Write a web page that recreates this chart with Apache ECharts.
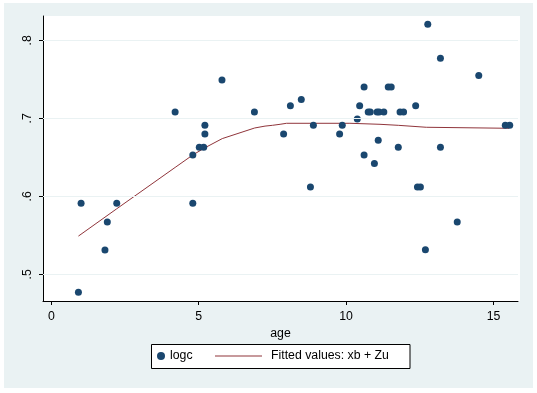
<!DOCTYPE html>
<html><head><meta charset="utf-8">
<script src="https://cdn.jsdelivr.net/npm/echarts@6/dist/echarts.min.js"></script>
<style>html,body{margin:0;padding:0;background:#fff}#c{width:537px;height:393px}</style>
</head><body><div id="c"></div>
<script>
// observed data: age and logc
const ages = [0.92,1.01,1.82,1.90,2.22,4.20,4.80,4.80,5.02,5.17,5.21,5.21,5.79,6.89,7.88,8.11,8.48,8.79,8.89,9.78,9.87,10.38,10.46,10.61,10.61,10.75,10.82,10.96,11.05,11.12,11.09,11.28,11.43,11.53,11.77,11.83,11.95,12.36,12.42,12.52,12.69,12.77,13.20,13.20,13.77,14.50,15.40,15.55];
const logc = [0.477,0.591,0.531,0.567,0.591,0.708,0.653,0.591,0.663,0.663,0.680,0.691,0.749,0.708,0.680,0.716,0.724,0.612,0.691,0.680,0.691,0.699,0.716,0.740,0.653,0.708,0.708,0.642,0.708,0.708,0.672,0.708,0.740,0.740,0.663,0.708,0.708,0.716,0.612,0.612,0.5315,0.8205,0.777,0.663,0.567,0.755,0.691,0.691];
// fitted values: xb + Zu
const fitAges = [0.92,2.22,4.20,4.80,5.20,5.80,6.90,7.25,7.50,7.76,7.98,10.13,10.16,11.15,11.20,11.77,11.83,12.72,12.76,15.53];
const fitVals = [0.549,0.584,0.637,0.653,0.662,0.674,0.6876,0.690,0.691,0.6923,0.6936,0.6936,0.6923,0.6923,0.691,0.691,0.6885,0.6885,0.6872,0.6872];
const xTicks = [0,5,10,15];
const yTicks = [0.5,0.6,0.7,0.8];
const seriesNames = ['logc','Fitted values: xb + Zu'];
const xTitle = 'age';

const FONT = 'Liberation Sans, Arial, sans-serif';
const chart = echarts.init(document.getElementById('c'));
chart.setOption({
  backgroundColor: '#ffffff',
  animation: false,
  graphic: [
    {type:'rect', z:-20, shape:{x:4,y:3,width:529,height:385}, style:{fill:'#EAF2F3'}},
    {type:'rect', z:-10, shape:{x:43,y:16,width:477,height:285}, style:{fill:'#ffffff'}},
    {type:'rect', z:-5, shape:{x:151.5,y:344.5,width:258.5,height:24}, style:{fill:'#ffffff',stroke:'#000',lineWidth:1}}
  ],
  grid: {left:43, right:19, top:16, bottom:92, containLabel:false},
  xAxis: {
    type:'value', min:-0.2816, max:15.831,
    name: xTitle, nameLocation:'middle', nameGap:27,
    nameTextStyle:{fontFamily:FONT,fontSize:12.3,color:'#000'},
    axisLine:{show:true,onZero:false,lineStyle:{color:'#000',width:1}},
    axisTick:{show:true,length:4,customValues:xTicks,lineStyle:{color:'#000'}},
    axisLabel:{customValues:xTicks,margin:10,fontFamily:FONT,fontSize:12.3,color:'#000'},
    splitLine:{show:false}
  },
  yAxis: {
    type:'value', min:0.46577, max:0.83115,
    axisLine:{show:true,onZero:false,lineStyle:{color:'#000',width:1}},
    axisTick:{show:true,length:4,customValues:yTicks,lineStyle:{color:'#000'}},
    axisLabel:{customValues:yTicks,rotate:90,margin:9,fontFamily:FONT,fontSize:12.3,color:'#000',
      formatter:v=>String(+v.toFixed(2)).replace(/^0/,'')},
    splitLine:{show:false}
  },
  legend: [
    {data:[{name:seriesNames[0],icon:'circle'}], left:157, top:350, padding:0, itemWidth:8, itemHeight:8,
      textStyle:{fontFamily:FONT,fontSize:12.3,color:'#000'}},
    {data:[{name:seriesNames[1],icon:'rect',itemStyle:{color:'#90353b'}}], left:215, top:350, padding:0, itemWidth:47, itemHeight:1,
      textStyle:{fontFamily:FONT,fontSize:12.3,color:'#000',padding:[0,0,0,4]}}
  ],
  series: [
    {name:seriesNames[1], type:'line', z:2, symbol:'none', data: fitAges.map((a,i)=>[a,fitVals[i]]),
      lineStyle:{color:'#90353b',width:1}, itemStyle:{color:'#90353b'},
      markLine:{silent:true, symbol:'none', label:{show:false}, lineStyle:{color:'#EAF2F3',width:1,type:'solid'},
        data: yTicks.map(v=>({yAxis:v}))}},
    {name:seriesNames[0], type:'scatter', z:3, symbol:'circle', symbolSize:7,
      itemStyle:{color:'#1a476f',opacity:1}, data: ages.map((a,i)=>[a,logc[i]])}
  ]
});
</script></body></html>
